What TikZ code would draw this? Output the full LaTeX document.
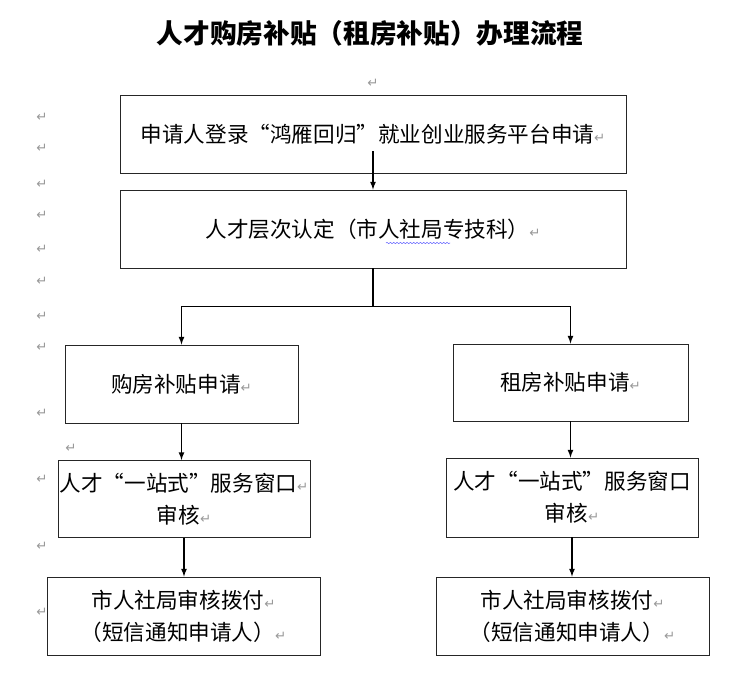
\documentclass[tikz,border=0pt]{standalone}
\usepackage{fontspec}
\usepackage{tikz}
\usepackage{xcolor}
\usetikzlibrary{decorations.pathmorphing}
\newfontfamily\cjk[RawFeature=+fwid]{Noto Sans CJK SC}
\newfontfamily\retfont{DejaVu Sans}
\newcommand{\pmark}{{\retfont\fontsize{10}{10}\selectfont\textcolor{black!40}{↵}}}

\tikzset{
  box/.style={draw=black!85, line width=0.7pt, inner sep=0pt, align=center,
    font=\cjk\fontsize{16.2}{24}\selectfont},
  ret/.style={inner sep=0pt},
}

\begin{document}
\begin{tikzpicture}[x=0.75pt,y=-0.75pt,>=latex]
\useasboundingbox (0,0) rectangle (750,676);
\node[font=\cjk\bfseries\fontsize{20}{20}\selectfont] (title) at (370,33) {人才购房补贴（租房补贴）办理流程};
\node[ret] (top) at (373,83) {\pmark};
% left margin marks
\foreach \n/\x/\y in {1/42/117,2/42/148,3/42/184,4/42/215,5/42/249,6/42/281,7/42/316,
    8/42/347,9/42/413,10/71/448,11/42/479,12/42/546,13/42/612}
  \node[ret] (m\n) at (\x,\y) {\pmark};

\node[box, minimum width=379.5pt, minimum height=58.5pt] (apply) at (373,134)
  {申请人登录“鸿雁回归”就业创业服务平台申请\pmark};
\node[box, minimum width=379.5pt, minimum height=58.5pt] (level) at (373,229)
  {人才层次认定（市人社局专技科）\pmark};
\node[box, minimum width=174.75pt, minimum height=58.5pt] (buy) at (181.5,384)
  {购房补贴申请\pmark};
\node[box, minimum width=176.25pt, minimum height=57.75pt] (rent) at (570.5,382.5)
  {租房补贴申请\pmark};
\node[box, minimum width=189pt, minimum height=57.75pt] (winbuy) at (184,499)
  {人才“一站式”服务窗口\pmark\\审核\pmark};
\node[box, minimum width=189pt, minimum height=59.25pt] (winrent) at (572,497.5)
  {人才“一站式”服务窗口\\审核\pmark};
\node[box, minimum width=204.75pt, minimum height=58.5pt] (paybuy) at (183.5,616)
  {市人社局审核拨付\pmark\\（短信通知申请人）\pmark};
\node[box, minimum width=204.75pt, minimum height=58.5pt] (payrent) at (572.5,616)
  {市人社局审核拨付\pmark\\（短信通知申请人）\pmark};
\coordinate (start) at (373,151);

\draw [blue!60, decorate, decoration={snake, amplitude=0.5pt, segment length=2.5pt}]
  (386,243) -- (450,243);

\draw [->, line width=1pt] (start) -- (level.north);
\draw [->, line width=1pt] (level.south) -- ++(0,38) -| (buy.north);
\draw [->, line width=1pt] (level.south) -- ++(0,38) -| (rent.north);
\draw [->, line width=1pt] (buy.south) -- (buy.south |- winbuy.north);
\draw [->, line width=1pt] (rent.south) -- (rent.south |- winrent.north);
\draw [->, line width=1pt] (winbuy.south) -- (winbuy.south |- paybuy.north);
\draw [->, line width=1pt] (winrent.south) -- (winrent.south |- payrent.north);
\end{tikzpicture}
\end{document}
